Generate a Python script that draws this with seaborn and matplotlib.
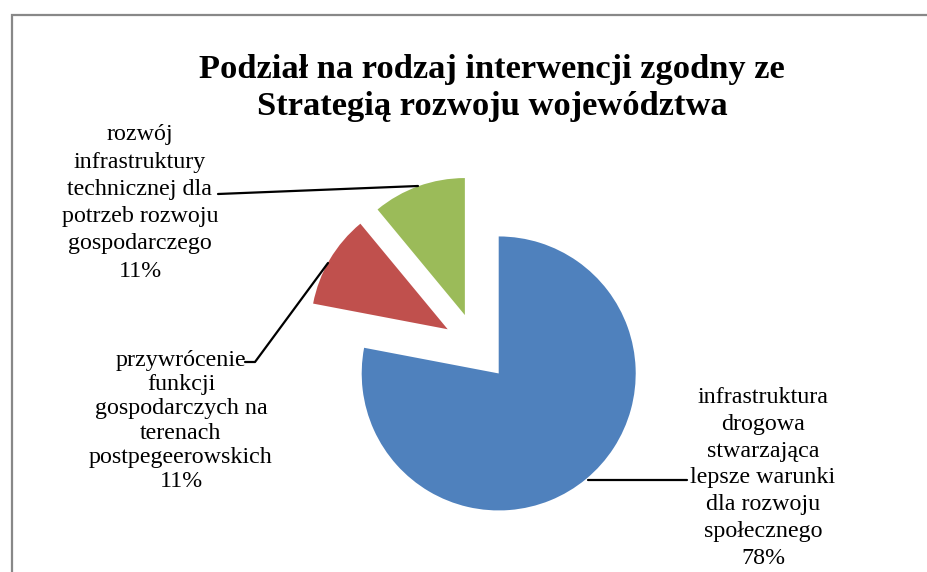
import matplotlib
matplotlib.use("Agg")
import matplotlib.pyplot as plt
import seaborn as sns

# ---- data ----
categories = [
    "infrastruktura\ndrogowa\nstwarzająca\nlepsze warunki\ndla rozwoju\nspołecznego",
    "przywrócenie\nfunkcji\ngospodarczych na\nterenach\npostpegeerowskich",
    "rozwój\ninfrastruktury\ntechnicznej dla\npotrzeb rozwoju\ngospodarczego",
]
values = [78, 11, 11]
pct_labels = ["78%", "11%", "11%"]
title = "Podział na rodzaj interwencji zgodny ze\nStrategią rozwoju województwa"

sns.set_style("white")
plt.rcParams["font.family"] = ["Liberation Serif", "DejaVu Serif"]

colors = ["#4F81BD", "#C0504D", "#9BBB59"]

W, H = 927, 572
fig = plt.figure(figsize=(W / 100, H / 100), dpi=100)
ax = fig.add_axes([0, 0, 1, 1])

R = 137
cx, cy = 476, H - 346
ax.pie(values, colors=colors, startangle=90, counterclock=False,
       explode=[0.26 * R, 0.24 * R, 0.24 * R], radius=R, center=(cx, cy),
       wedgeprops=dict(linewidth=0), frame=True)
ax.set_xlim(0, W)
ax.set_ylim(0, H)
ax.set_aspect("equal")
ax.axis("off")

# chart frame
ax.plot([12, 12, W + 5], [-5, H - 15, H - 15], color="#888888", lw=1.6,
        solid_joinstyle="miter", clip_on=False)

# title
ax.text(492, H - 88, title, ha="center", va="center", fontsize=24.8,
        fontweight="bold", linespacing=1.25, color="black")

# labels
lab_fs = 17.3
lab_pos = [(763, H - 478), (181, H - 421), (140, H - 203)]
lab_ls = [1.37, 1.20, 1.39]
for cat, pct, (x, y), ls in zip(categories, pct_labels, lab_pos, lab_ls):
    ax.text(x, y, cat + "\n" + pct, ha="center", va="center",
            fontsize=lab_fs, linespacing=ls, color="black")

# leader lines
ax.plot([588, 687], [H - 480, H - 480], color="black", lw=1.6)
ax.plot([245, 255, 328], [H - 362, H - 362, H - 263], color="black", lw=1.6)
ax.plot([218, 418], [H - 194, H - 186], color="black", lw=1.6)

fig.savefig("out.png", dpi=100, facecolor="white")
